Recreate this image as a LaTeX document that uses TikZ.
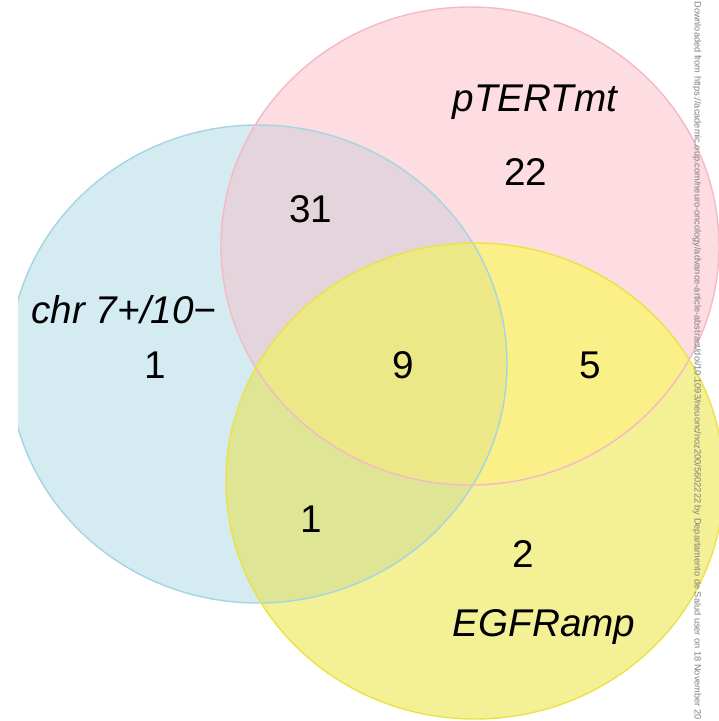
\documentclass[tikz,border=0pt]{standalone}
\usepackage{fontspec}
\setmainfont{Liberation Sans}
% colori delle regioni
\definecolor{fillB}{RGB}{211,235,241}
\definecolor{fillP}{RGB}{253,220,226}
\definecolor{fillY}{RGB}{243,240,150}
\definecolor{fillBP}{RGB}{228,212,220}
\definecolor{fillPY}{RGB}{250,240,135}
\definecolor{fillBY}{RGB}{222,230,150}
\definecolor{fillBPY}{RGB}{236,232,135}
\definecolor{bordblue}{RGB}{165,212,227}
\definecolor{bordpink}{RGB}{245,185,198}
\definecolor{bordyellow}{RGB}{236,226,70}
\definecolor{markgray}{RGB}{125,125,125}
\newcommand{\setB}{(258,364) ellipse (249 and 239)}
\newcommand{\setP}{(470,246) ellipse (249 and 239)}
\newcommand{\setY}{(475,481) ellipse (249 and 238)}
\begin{document}
\begin{tikzpicture}[x=0.02cm, y=-0.02cm,
    every node/.style={font=\fontsize{22}{26}\selectfont},
    setlabel/.style={font=\fontsize{22}{26}\selectfont\itshape, anchor=base},
    count/.style={anchor=base},
    rim/.style={line width=0.8pt}]
        \useasboundingbox (0,0) rectangle (719,721);

        % Insiemi
        \begin{scope}
        \clip (18,0) rectangle (719,721);
        \fill[fillB] \setB;
        \fill[fillP] \setP;
        \fill[fillY] \setY;
        \begin{scope}
            \clip \setP;
            \fill[fillPY] \setY;
        \end{scope}
        \begin{scope}
            \clip \setB;
            \fill[fillBP] \setP;
            \fill[fillBY] \setY;
            \clip \setP;
            \fill[fillBPY] \setY;
        \end{scope}
        \draw[bordblue, rim] \setB;
        \draw[bordpink, rim] \setP;
        \draw[bordyellow, rim] \setY;
        \end{scope}

        % Etichette
        \node[setlabel] (lblchr) at (124,323) {chr 7+/10\textminus};
        \node[setlabel] (lbltert) at (535,111) {pTERTmt};
        \node[setlabel] (lblegfr) at (544,636) {EGFRamp};

        % Conteggi
        \node[count] (nchr) at (155,378) {1};
        \node[count] (ntert) at (526,185) {22};
        \node[count] (negfr) at (523,567) {2};
        \node[count] (nchrtert) at (311,222) {31};
        \node[count] (nall) at (403,378) {9};
        \node[count] (ntertegfr) at (590,378) {5};
        \node[count] (nchregfr) at (311,532) {1};

        % Nota laterale
        \node[rotate=-90, anchor=west, inner sep=0pt, text=markgray,
              font=\fontsize{5.25}{6}\selectfont] (watermark) at (697,1)
              {Downloaded from https://academic.oup.com/neuro-oncology/advance-article-abstract/doi/10.1093/neuonc/noz200/5602222 by Departamento de Salud user on 18 November 20};
\end{tikzpicture}
\end{document}
